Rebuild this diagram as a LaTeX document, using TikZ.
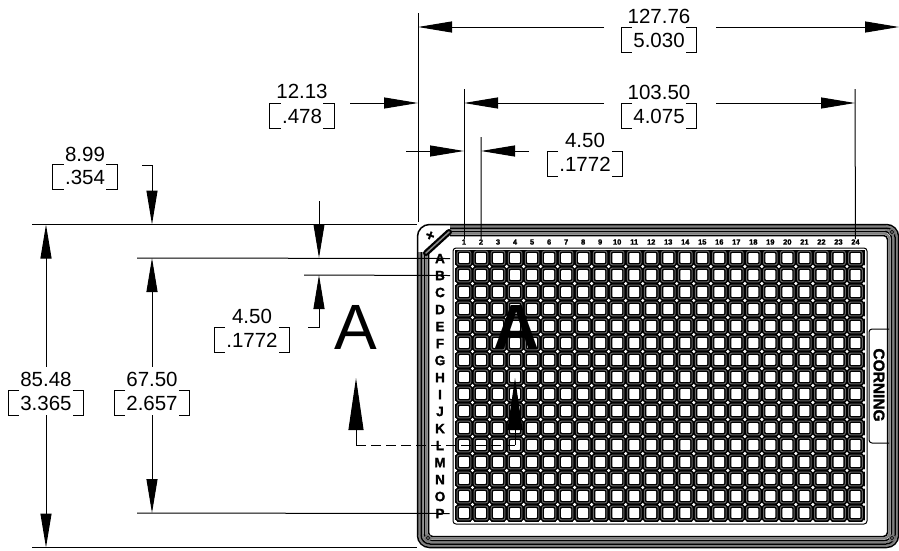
\documentclass[tikz,border=0pt]{standalone}
\usepackage{fontspec}
\setmainfont{Liberation Sans}
\newfontfamily\heavyfont[FakeBold=1.6]{Liberation Sans Bold}
\usetikzlibrary{arrows.meta,calc}

\tikzset{
	dimline/.style={line width=1pt},
	dimval/.style={font=\fontsize{20.5}{24}\selectfont, inner xsep=12pt, inner ysep=0pt, minimum height=24pt},
	bigletter/.style={font=\fontsize{64}{64}\selectfont, inner sep=0pt},
	rowlab/.style={font=\fontsize{13.5}{14}\heavyfont, inner sep=0pt},
	collab/.style={font=\fontsize{7.5}{8}\heavyfont, inner sep=0pt},
	stripe/.style={line width=1.5pt, line join=round},
	midstripe/.style={line width=2pt, draw=black!50},
	cutarrow/.style={-{Triangle[length=52pt,width=15pt]}, dimline}
}
% brackets round the inch value
\newcommand{\brk}[1]{%
	\draw[dimline] ([xshift=11pt]#1.north west) -- (#1.north west) -- (#1.south west) -- ([xshift=11pt]#1.south west);
	\draw[dimline] ([xshift=-11pt]#1.north east) -- (#1.north east) -- (#1.south east) -- ([xshift=-11pt]#1.south east);
}

\begin{document}
\begin{tikzpicture}[x=1pt,y=-1pt,>={Triangle[length=34pt,width=11pt]}]
	\useasboundingbox (0,0) rectangle (899,550);
	
	% plate outline
	\foreach \d/\r in {1.7/11,5.2/8,9/6} {
		\draw[midstripe, rounded corners=\r] (417.5+\d,252) -- (417.5+\d,547.5-\d) -- (898.5-\d,547.5-\d) -- (898.5-\d,224.5+\d) -- (450,224.5+\d);
	}
	\draw[stripe, rounded corners=12] (417.5,224.5) rectangle (898.5,547.5);
	\foreach \d/\r in {3.5/9,7/7,11/4} {
		\draw[stripe, rounded corners=\r] (417.5+\d,252) -- (417.5+\d,547.5-\d) -- (898.5-\d,547.5-\d) -- (898.5-\d,224.5+\d) -- (450,224.5+\d);
	}
	\draw[line width=6pt, line cap=round] (426,253) -- (449,232);
	\draw[line width=1.5pt, draw=black!45, line cap=round] (426,253) -- (449,232);
	\foreach \cx/\cy in {892/232,892/538,428/538} {
		\fill[black!55] (\cx,\cy) circle (3.5);
		\draw[line width=0.5pt] (\cx,\cy) circle (1.8);
	}
	\node[font=\fontsize{15}{15}\heavyfont, inner sep=0pt, rotate=-20] (plus) at (430,236) {+};
	
	% well field
	\draw[dimline, rounded corners=3] (453,248) rectangle (867,524);
	\fill (455,249.5) rectangle (865,522);
	\foreach \i in {0,...,24} {
		\foreach \j in {1,...,16} {
			\fill[white] ({455.5+17.02*\i},{249.5+17*\j}) circle (1.7);
		}
	}
	\foreach \i in {0,...,23} {
		\foreach \j in {0,...,15} {
			\draw[black!60, line width=1pt, rounded corners=2] ({464+17.02*\i-6.8},{258+17*\j-6.8}) rectangle ++(13.6,13.6);
			\fill[white, rounded corners=0.7] ({464+17.02*\i-4.9},{258+17*\j-4.9}) rectangle ++(9.8,9.8);
		}
	}
	
	% row and column labels
	\foreach \l [count=\j from 0] in {A,B,C,D,E,F,G,H,I,J,K,L,M,N,O,P} {
		\node[rowlab] (row\l) at (440,{258.5+17*\j}) {\l};
	}
	\foreach \n in {1,...,24} {
		\node[collab] (col\n) at ({464+17.02*(\n-1)},242) {\n};
	}
	
	% Corning tab
	\draw[dimline, rounded corners=3] (889,329) -- (869,329) -- (869,443) -- (889,443);
	\node[font=\fontsize{15.5}{16}\heavyfont, rotate=-90, inner sep=0pt] (corning) at (879,385) {CORNING};
	
	% section mark
	\node[bigletter] (secA) at (356,327) {A};
	\node[bigletter, font=\fontsize{64}{64}\selectfont\bfseries] (secB) at (517,327) {A};
	\coordinate (cutL) at (356,445);
	\coordinate (cutR) at (515,445);
	\coordinate (cutLtip) at (356,378);
	\coordinate (cutRtip) at (515,378);
	\draw[dimline, dash pattern=on 10pt off 5pt] (cutL) -- (cutR);
	\draw[cutarrow] (cutL) -- (cutLtip);
	\draw[cutarrow] (cutR) -- (cutRtip);
	
	% width dimensions
	\node[dimval] (w127) at (659,16) {127.76};
	\node[dimval] (w127in) at (659,40) {5.030};
	\brk{w127in}
	\node[dimval] (w103) at (659,92) {103.50};
	\node[dimval] (w103in) at (659,116) {4.075};
	\brk{w103in}
	\node[dimval] (w12) at (302,91) {12.13};
	\node[dimval] (w12in) at (302,116) {.478};
	\brk{w12in}
	\node[dimval] (w4) at (585,140) {4.50};
	\node[dimval] (w4in) at (585,164) {.1772};
	\brk{w4in}
	
	\coordinate (extP) at (418,13);
	\coordinate (extPb) at (418,222);
	\coordinate (ext1) at (464,89);
	\coordinate (ext2) at (481,137);
	\coordinate (ext24) at (855,89);
	\draw[dimline] (extP) -- (extPb);
	\draw[dimline] (ext1) -- (col1.north);
	\draw[dimline] (ext2) -- (col2.north);
	\draw[dimline] (ext24) -- (col24.north);
	
	\coordinate (w127L) at (604,27);
	\coordinate (w127R) at (716,27);
	\draw[dimline,->] (w127L) -- (418,27);
	\draw[dimline,->] (w127R) -- (899,27);
	\coordinate (w103L) at (604,103);
	\coordinate (w103R) at (716,103);
	\draw[dimline,->] (w103L) -- (464,103);
	\draw[dimline,->] (w103R) -- (855,103);
	\coordinate (w12R) at (350,103);
	\draw[dimline,->] (w12R) -- (418,103);
	\coordinate (w4L) at (406,151);
	\coordinate (w4R) at (529,151);
	\draw[dimline,->] (w4L) -- (464,151);
	\draw[dimline,->] (w4R) -- (481,151);
	
	% height dimensions
	\node[dimval] (h85) at (46,379) {85.48};
	\node[dimval] (h85in) at (46,403) {3.365};
	\brk{h85in}
	\node[dimval] (h67) at (152,379) {67.50};
	\node[dimval] (h67in) at (152,403) {2.657};
	\brk{h67in}
	\node[dimval] (h8) at (85,154) {8.99};
	\node[dimval] (h8in) at (85,177) {.354};
	\brk{h8in}
	\node[dimval] (h4) at (252,316) {4.50};
	\node[dimval] (h4in) at (252,340) {.1772};
	\brk{h4in}
	
	\coordinate (extT) at (32,224.5);
	\coordinate (extTe) at (417,224.5);
	\coordinate (extA) at (137,258);
	\coordinate (extB) at (304,275);
	\coordinate (extO) at (137,513);
	\coordinate (extU) at (32,547.5);
	\coordinate (extUe) at (417,547.5);
	\draw[dimline] (extT) -- (extTe);
	\draw[dimline] (extU) -- (extUe);
	\draw[dimline] (extA) -- ([xshift=5pt]rowA.east);
	\draw[dimline] (extB) -- ([xshift=5pt]rowB.east);
	\draw[dimline] (extO) -- ([xshift=5pt]rowP.east);
	
	\draw[dimline,->] (h85.north) -- (46,224.5);
	\draw[dimline,->] (h85in.south) -- (46,547.5);
	\draw[dimline,->] (h67.north) -- (152,258);
	\draw[dimline,->] (h67in.south) -- (152,513);
	\coordinate (h8hook) at (142,165);
	\draw[dimline,->] (h8hook) -- (152,165) -- (152,224.5);
	\coordinate (h4top) at (319,201);
	\coordinate (h4hook) at (308,327);
	\draw[dimline,->] (h4top) -- (319,258);
	\draw[dimline,->] (h4hook) -- (319,327) -- (319,275);
\end{tikzpicture}
\end{document}
